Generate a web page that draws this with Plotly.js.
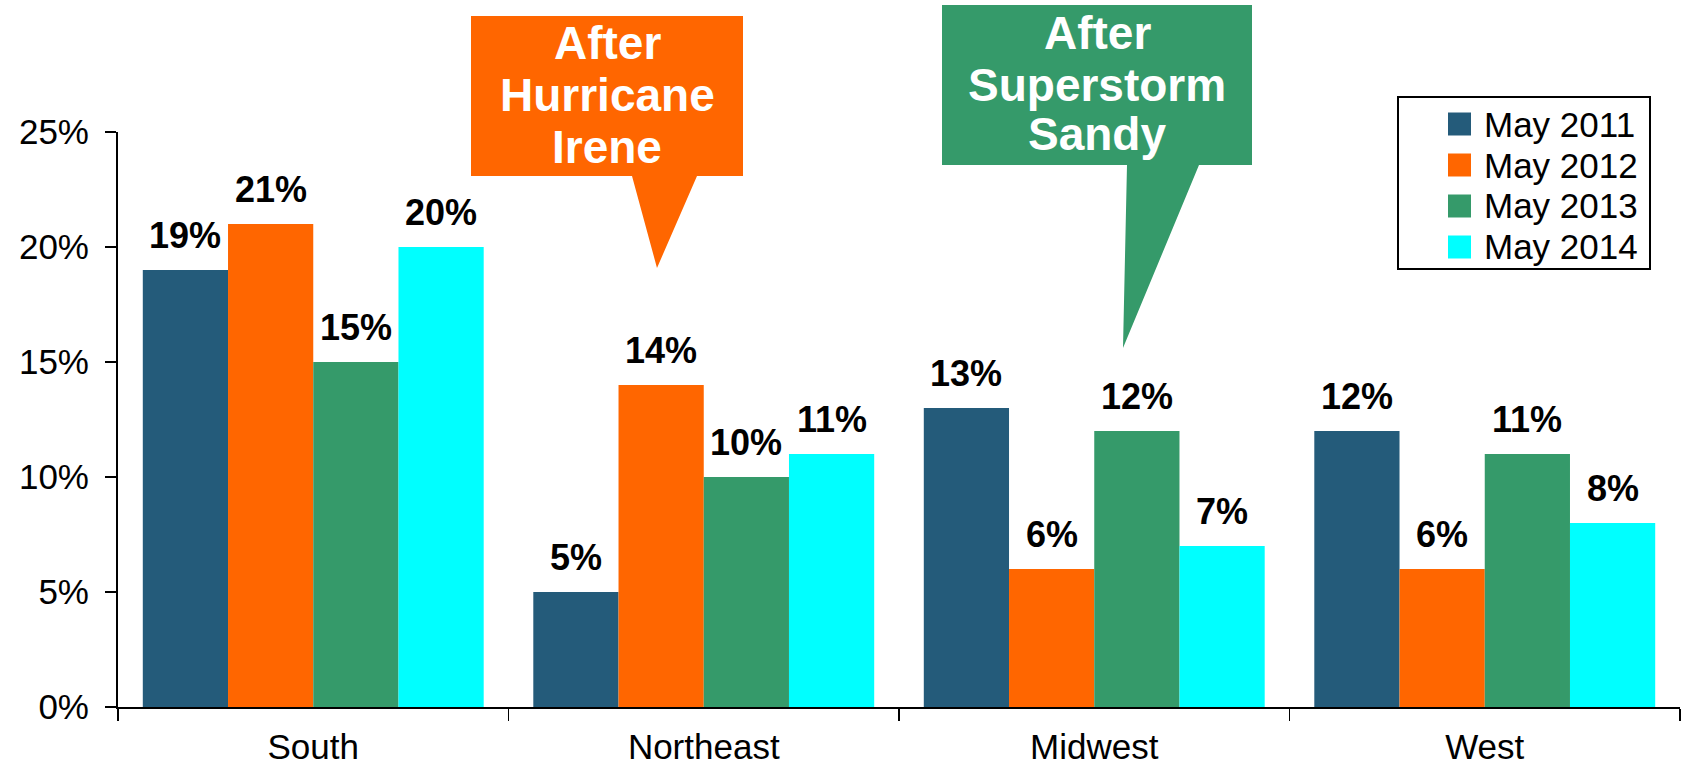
<!DOCTYPE html>
<html>
<head>
<meta charset="utf-8">
<script src="https://cdn.plot.ly/plotly-3.0.1.min.js"></script>
<style>
  html, body { margin: 0; padding: 0; background: #ffffff; }
  #chart { width: 1682px; height: 765px; }
</style>
</head>
<body>
<div id="chart"></div>
<script>
// Regions on the x axis
const regions = ['South', 'Northeast', 'Midwest', 'West'];

// Share per region, one array per survey date (percent)
const seriesNames = ['May 2011', 'May 2012', 'May 2013', 'May 2014'];
const may2011 = [19, 5, 13, 12];
const may2012 = [21, 14, 6, 6];
const may2013 = [15, 10, 12, 11];
const may2014 = [20, 11, 7, 8];

// Y axis ticks
const yTickVals = [0, 5, 10, 15, 20, 25];
const yTickText = ['0%', '5%', '10%', '15%', '20%', '25%'];

// Callout texts
const ireneLines = ['After', 'Hurricane', 'Irene'];
const sandyLines = ['After', 'Superstorm', 'Sandy'];

// ---- styling ----
const seriesColors = ['#245B7A', '#FF6600', '#359A6A', '#00FFFF'];
const FONT = 'Liberation Sans, Arial, Helvetica, sans-serif';
const W = 1682, H = 765;
const M = { l: 118, r: 2, t: 132, b: 58 };
const BARGAP = 0.127;

const plotW = W - M.l - M.r;
const plotH = H - M.t - M.b;
// page pixel -> paper coordinates (for decorations outside the plot area)
const px = x => (x - M.l) / plotW;
const py = y => (H - M.b - y) / plotH;

const seriesValues = [may2011, may2012, may2013, may2014];

const traces = seriesValues.map((vals, j) => ({
  type: 'bar',
  name: seriesNames[j],
  x: regions,
  y: vals,
  marker: { color: seriesColors[j], line: { width: 0 } },
  showlegend: false,
  hoverinfo: 'skip'
}));

const annotations = [];
const shapes = [];

// value labels above each bar
const nSeries = seriesValues.length;
const slot = (1 - BARGAP) / nSeries;
seriesValues.forEach((vals, j) => {
  vals.forEach((v, i) => {
    annotations.push({
      xref: 'x', yref: 'y',
      x: i + (j - (nSeries - 1) / 2) * slot,
      y: v,
      text: v + '%',
      showarrow: false,
      xanchor: 'center', yanchor: 'bottom',
      yshift: 12,
      font: { family: FONT, size: 36, color: '#000000', weight: 700 }
    });
  });
});

// legend box
shapes.push({
  type: 'rect', xref: 'paper', yref: 'paper',
  x0: px(1398), x1: px(1650), y0: py(97), y1: py(269),
  line: { color: '#000000', width: 2 }, fillcolor: '#ffffff', layer: 'above'
});
seriesNames.forEach((name, j) => {
  const cy = 124 + 41 * j;
  shapes.push({
    type: 'rect', xref: 'paper', yref: 'paper',
    x0: px(1448), x1: px(1471), y0: py(cy + 11.5), y1: py(cy - 11.5),
    line: { width: 0 }, fillcolor: seriesColors[j], layer: 'above'
  });
  annotations.push({
    xref: 'paper', yref: 'paper', x: px(1482), y: py(cy),
    xanchor: 'left', yanchor: 'middle', showarrow: false,
    text: name,
    font: { family: FONT, size: 35, color: '#000000' }
  });
});

// speech-bubble callouts
function bubblePath(pts) {
  return 'M' + pts.map(p => px(p[0]) + ',' + py(p[1])).join(' L') + ' Z';
}
const callouts = [
  {
    color: '#FF6600', lines: ireneLines, cx: 607, centers: [43, 95, 147],
    outline: [[471, 16], [743, 16], [743, 176], [697, 176], [657, 268], [632, 176], [471, 176]]
  },
  {
    color: '#359A6A', lines: sandyLines, cx: 1097, centers: [33, 85, 134],
    outline: [[942, 5], [1252, 5], [1252, 165], [1199, 165], [1123, 348], [1127, 165], [942, 165]]
  }
];
callouts.forEach(c => {
  shapes.push({
    type: 'path', xref: 'paper', yref: 'paper',
    path: bubblePath(c.outline),
    fillcolor: c.color, line: { width: 0 }, layer: 'above'
  });
  c.lines.forEach((t, k) => {
    annotations.push({
      xref: 'paper', yref: 'paper', x: px(c.cx), y: py(c.centers[k]),
      xanchor: 'center', yanchor: 'middle', showarrow: false,
      text: t,
      font: { family: FONT, size: 46, color: '#ffffff', weight: 700 }
    });
  });
});

const layout = {
  width: W, height: H,
  margin: M,
  paper_bgcolor: '#ffffff', plot_bgcolor: '#ffffff',
  barmode: 'group', bargap: BARGAP, bargroupgap: 0,
  showlegend: false,
  font: { family: FONT, color: '#000000' },
  xaxis: {
    type: 'category',
    showline: true, linecolor: '#000000', linewidth: 2,
    ticks: 'outside', tickson: 'boundaries', ticklen: 12, tickwidth: 1.5, tickcolor: '#000000',
    tickfont: { family: FONT, size: 35, color: '#000000' },
    ticklabelstandoff: 8,
    showgrid: false, zeroline: false, fixedrange: true
  },
  yaxis: {
    range: [0, 25],
    tickvals: yTickVals, ticktext: yTickText,
    showline: true, linecolor: '#000000', linewidth: 2,
    ticks: 'outside', ticklen: 11, tickwidth: 1.5, tickcolor: '#000000',
    tickfont: { family: FONT, size: 35, color: '#000000' },
    ticklabelstandoff: 9,
    showgrid: false, zeroline: false, fixedrange: true
  },
  shapes: shapes,
  annotations: annotations
};

Plotly.newPlot('chart', traces, layout, { staticPlot: true, displayModeBar: false });
</script>
</body>
</html>
